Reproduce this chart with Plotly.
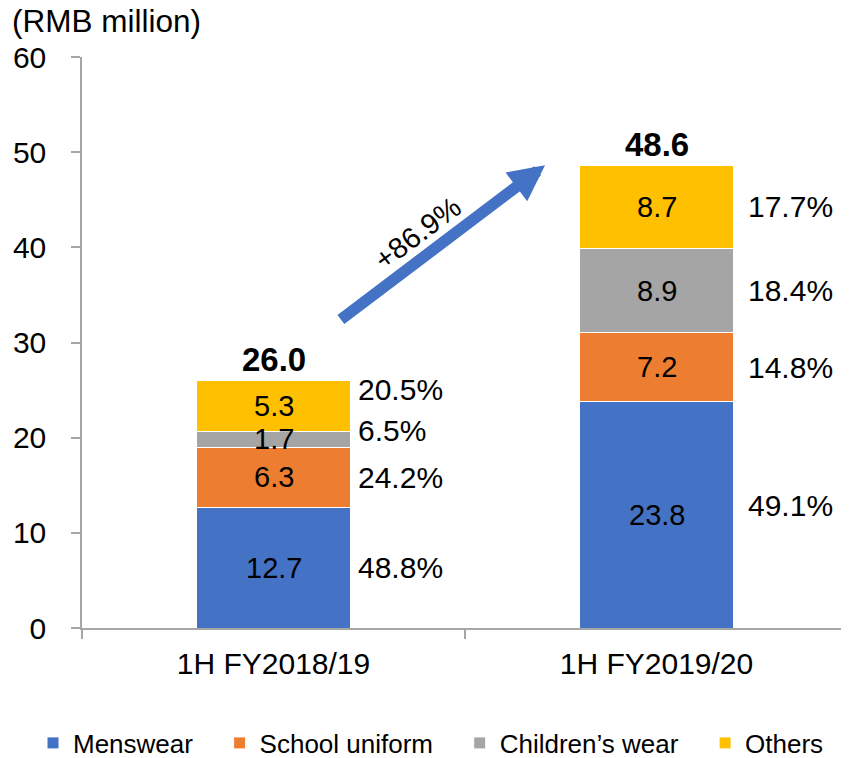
import plotly.graph_objects as go

# ---- data ----
categories = ["1H FY2018/19", "1H FY2019/20"]
series_names = ["Menswear", "School uniform", "Children\u2019s wear", "Others"]
menswear = [12.7, 23.8]
school_uniform = [6.3, 7.2]
childrens_wear = [1.7, 8.9]
others = [5.3, 8.7]
totals = [26.0, 48.6]
share_labels = [["48.8%", "24.2%", "6.5%", "20.5%"],
                ["49.1%", "14.8%", "18.4%", "17.7%"]]
growth_label = "+86.9%"
y_ticks = [0, 10, 20, 30, 40, 50, 60]

# ---- styling ----
colors = ["#4472C4", "#ED7D31", "#A5A5A5", "#FFC000"]
FONT = "Liberation Sans, Arial, sans-serif"
# vertical nudges (data units) of share labels relative to segment centres
share_nudge = [[0, 0, 0.95, 1.75], [1.0, 0, 0, 0]]
share_xshift = [6, 13]
legend_pad = "\u00a0" * 3

# the page body adds an 8px offset; figure is sized to fill the rest
W, H = 841, 750
ML, MR, MT, MB = 74, 1, 49, 130
plot_w = W - ML - MR
plot_h = H - MT - MB

series_vals = [menswear, school_uniform, childrens_wear, others]

fig = go.Figure()
for k, (name, vals, col) in enumerate(zip(series_names, series_vals, colors)):
    fig.add_trace(go.Bar(
        x=categories, y=vals,
        name=name + (legend_pad if k < len(series_names) - 1 else ""),
        marker=dict(color=col, line=dict(color="white", width=1)),
        width=0.4, hoverinfo="skip",
    ))

annotations = []
for ci, cat in enumerate(categories):
    base = 0.0
    for si, vals in enumerate(series_vals):
        v = vals[ci]
        mid = base + v / 2
        annotations.append(dict(
            x=ci, y=mid, xref="x", yref="y", text=f"{v:.1f}", showarrow=False,
            font=dict(family=FONT, size=29, color="black"),
            xanchor="center", yanchor="middle"))
        annotations.append(dict(
            x=ci + 0.2, y=mid + share_nudge[ci][si], xref="x", yref="y",
            text=share_labels[ci][si], showarrow=False,
            font=dict(family=FONT, size=30, color="black"),
            xanchor="left", yanchor="middle", xshift=share_xshift[ci]))
        base += v
    annotations.append(dict(
        x=ci, y=totals[ci], xref="x", yref="y", text=f"<b>{totals[ci]:.1f}</b>",
        showarrow=False, font=dict(family=FONT, size=33, color="black"),
        xanchor="center", yanchor="middle", yshift=21))

# growth arrow
annotations.append(dict(
    x=0.709, y=48.63, ax=0.172, ay=32.3, xref="x", yref="y",
    axref="x", ayref="y", text="", showarrow=True,
    arrowhead=2, arrowsize=0.63, arrowwidth=11.4, arrowcolor="#4472C4",
    standoff=0, startstandoff=0))
annotations.append(dict(
    x=0.377, y=41.5, xref="x", yref="y", text=growth_label, showarrow=False,
    textangle=-37, font=dict(family=FONT, size=29, color="black"),
    xanchor="center", yanchor="middle"))

fig.update_layout(
    barmode="stack",
    width=W, height=H,
    margin=dict(l=ML, r=MR, t=MT, b=MB, autoexpand=False),
    paper_bgcolor="white", plot_bgcolor="white",
    font=dict(family=FONT, size=30, color="black"),
    title=dict(text="(RMB million)", x=4 / W, xanchor="left",
               y=1 - 13 / H, yanchor="middle", xref="container",
               yref="container", font=dict(family=FONT, size=31.5, color="black")),
    bargap=0.6,
    showlegend=True,
    legend=dict(orientation="h", x=(25 - ML) / plot_w, xanchor="left",
                xref="paper", y=-(735 - (H - MB)) / plot_h, yanchor="middle",
                yref="paper",
                font=dict(family=FONT, size=26, color="black"),
                traceorder="normal", itemclick=False),
    annotations=annotations,
)
fig.update_xaxes(
    type="category", showline=True, linecolor="#A6A6A6", linewidth=1.5,
    ticks="outside", tickson="boundaries", ticklen=9, tickcolor="#A6A6A6",
    tickwidth=1.5, showgrid=False, range=[-0.5, 1.5], automargin=False,
    tickfont=dict(family=FONT, size=30, color="black"), ticklabelstandoff=8,
)
fig.update_yaxes(
    range=[0, 60], tickvals=y_ticks, showline=True, linecolor="#A6A6A6",
    linewidth=1.5, ticks="outside", ticklen=9, tickcolor="#A6A6A6",
    tickwidth=1.5, showgrid=False, zeroline=False, automargin=False,
    tickfont=dict(family=FONT, size=30, color="black"), ticklabelstandoff=19,
)

fig.write_html("out.html")
